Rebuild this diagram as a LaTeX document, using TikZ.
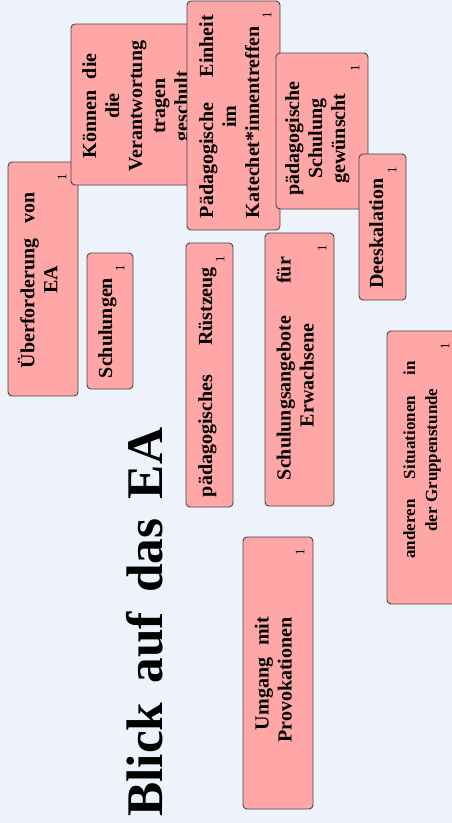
\documentclass[tikz,border=0pt]{standalone}
\usepackage{fontspec}
\setmainfont{Liberation Serif}
\definecolor{bgcol}{RGB}{238,242,250}
\definecolor{boxfill}{RGB}{255,166,166}
\definecolor{boxline}{RGB}{70,70,70}
\begin{document}
\begin{tikzpicture}[x=1pt,y=-1pt,
  box/.style={draw=boxline,fill=boxfill,line width=0.9pt,rounded corners=4pt,inner sep=0pt},
  txt/.style={rotate=90,inner sep=0pt,align=center,font=\fontsize{20}{23}\selectfont\bfseries},
  txtsmall/.style={rotate=90,inner sep=0pt,align=center,font=\fontsize{17}{22}\selectfont\bfseries},
  num/.style={rotate=90,inner sep=0pt,font=\fontsize{13}{13}\selectfont}]
\fill[bgcol] (0,0) rectangle (452,823);
\useasboundingbox (0,0) rectangle (452,823);
% A
\node[box,minimum width=70pt,minimum height=234pt] (a) at (43,279) {};
\node[txt] (at) at (40.9,280) {\makebox[176pt][s]{Überforderung von}\strut\\ EA\strut};
\node[num] (an) at (62,177) {1};
% H
\node[box,minimum width=46pt,minimum height=136pt] (h) at (110,321) {};
\node[txt] (ht) at (107.4,328) {Schulungen\strut};
\node[num] (hn) at (120,268) {1};
% B
\node[box,minimum width=132pt,minimum height=161pt] (b) at (137,104.5) {};
\node[txt] (bt) at (137.4,106) {\makebox[105pt][s]{Können die}\strut\\ die\strut\\ Verantwortung\strut\\ tragen\strut\\ geschult\strut};
% C
\node[box,minimum width=93pt,minimum height=229pt] (c) at (233.5,115.5) {};
\node[txt] (ct) at (231.4,116.5) {\makebox[203pt][s]{Pädagogische Einheit}\strut\\ im\strut\\ \makebox[203pt][l]{Katechet*innentreffen}\strut};
\node[num] (cn) at (267,15) {1};
% D
\node[box,minimum width=92pt,minimum height=156pt] (d) at (322,131) {};
\node[txt] (dt) at (317.5,138.5) {pädagogische\strut\\ Schulung\strut\\ gewünscht\strut};
\node[num] (dn) at (355,68) {1};
% E
\node[box,minimum width=47pt,minimum height=146pt] (e) at (382.5,227) {};
\node[txt] (et) at (378.4,233.5) {Deeskalation\strut};
\node[num] (en) at (392,170) {1};
% F
\node[box,minimum width=47pt,minimum height=264pt] (f) at (209.5,375) {};
\node[txt] (ft) at (207.4,382) {\makebox[230pt][s]{pädagogisches Rüstzeug}\strut};
\node[num] (fn) at (220,259) {1};
% G
\node[box,minimum width=69pt,minimum height=273pt] (g) at (299.5,369.5) {};
\node[txt] (gt) at (297.4,368.5) {\makebox[223pt][s]{Schulungsangebote für}\strut\\ \makebox[117pt][l]{Erwachsene}\strut};
\node[num] (gn) at (322,248) {1};
% I
\node[box,minimum width=70pt,minimum height=273pt] (i) at (422,467.5) {};
\node[txtsmall] (it) at (421.6,460) {\makebox[197pt][s]{anderen Situationen in}\strut\\ der Gruppenstunde\strut};
\node[num] (in) at (445,346) {1};
% J
\node[box,minimum width=70pt,minimum height=272pt] (j) at (278,673) {};
\node[txt] (jt) at (275.4,680) {\makebox[126pt][r]{\makebox[113pt][s]{Umgang mit}}\strut\\ Provokationen\strut};
\node[num] (jn) at (300,552) {1};
% Title
\node[rotate=90,anchor=base west,inner sep=0pt,font=\fontsize{51.4}{60}\selectfont\bfseries] (title) at (162,817) {\makebox[389pt][s]{Blick auf das EA}};
\end{tikzpicture}
\end{document}
